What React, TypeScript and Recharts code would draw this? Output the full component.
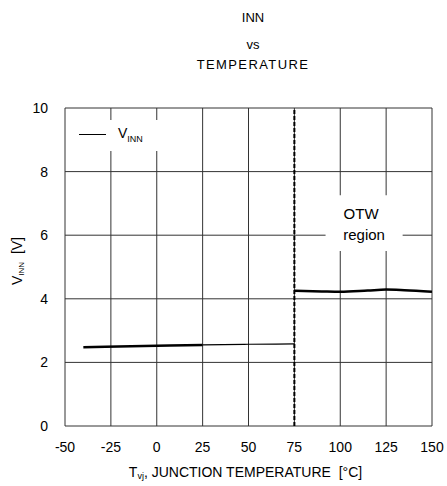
import { CartesianGrid, Legend, Line, LineChart, ReferenceArea, ReferenceLine, XAxis, YAxis } from "recharts";

const xTicks = [-50, -25, 0, 25, 50, 75, 100, 125, 150];
const yTicks = [0, 2, 4, 6, 8, 10];

// below OTW threshold: heavy segment then thin continuation
const lowThick = [
  { t: -40, v: 2.48 },
  { t: 0, v: 2.52 },
  { t: 25, v: 2.55 },
];
const lowThin = [
  { t: 25, v: 2.55 },
  { t: 50, v: 2.57 },
  { t: 75, v: 2.58 },
];
// OTW region
const high = [
  { t: 75, v: 4.25 },
  { t: 90, v: 4.23 },
  { t: 100, v: 4.22 },
  { t: 115, v: 4.26 },
  { t: 125, v: 4.29 },
  { t: 135, v: 4.27 },
  { t: 150, v: 4.22 },
];

const font = "'Liberation Sans', Arial, sans-serif";

function LegendBox() {
  return (
    <div style={{ display: "flex", alignItems: "center", background: "#fff", padding: "4px 8px 4px 13px", fontFamily: font, fontSize: 14 }}>
      <span style={{ display: "inline-block", width: 27, borderTop: "1px solid #000", marginRight: 12 }} />
      <span>
        V<sub style={{ fontSize: 9 }}>INN</sub>
      </span>
    </div>
  );
}

export default function App() {
  return (
    <div style={{ position: "absolute", top: 0, left: 0, width: 447, height: 486, background: "#fff", fontFamily: font }}>
      <div style={{ position: "absolute", top: 8, left: 153, width: 200, textAlign: "center", fontSize: 13, lineHeight: "20px" }}>
        <div>INN</div>
        <div style={{ marginTop: 7 }}>vs</div>
        <div style={{ letterSpacing: 1.4 }}>TEMPERATURE</div>
      </div>
      <LineChart width={447} height={486} margin={{ top: 108, right: 15, bottom: 0, left: 0 }}>
        <CartesianGrid stroke="#333" strokeWidth={1} />
        <ReferenceArea x1={-48} x2={7} y1={8.65} y2={9.62} fill="#fff" fillOpacity={1} stroke="none" ifOverflow="visible" />
        <ReferenceArea
          x1={92}
          x2={134}
          y1={5.5}
          y2={7.26}
          fill="#fff"
          fillOpacity={1}
          stroke="none"
          label={(p: any) => {
            const vb = p.viewBox;
            const cx = vb.x + vb.width / 2;
            return (
              <text x={cx} y={vb.y + 24} textAnchor="middle" fontSize={15} fill="#000" fontFamily={font}>
                <tspan x={cx - 3}>OTW</tspan>
                <tspan x={cx} dy={21}>region</tspan>
              </text>
            );
          }}
        />
        <ReferenceLine x={75} stroke="#000" strokeWidth={2} strokeDasharray="4 2" />
        <XAxis
          dataKey="t"
          type="number"
          domain={[-50, 150]}
          ticks={xTicks}
          allowDataOverflow
          axisLine={false}
          tickLine={false}
          tickMargin={10}
          height={60}
          tick={{ fontSize: 14, fill: "#000", fontFamily: font }}
          label={(p: any) => {
            const vb = p.viewBox;
            return (
              <text x={vb.x + vb.width / 2 - 3} y={477} textAnchor="middle" fontSize={14} fill="#000" fontFamily={font} style={{ whiteSpace: "pre" }}>
                T<tspan fontSize={9} dy={2}>vj</tspan>
                <tspan dy={-2}>{", JUNCTION TEMPERATURE  [°C]"}</tspan>
              </text>
            );
          }}
        />
        <YAxis
          type="number"
          domain={[0, 10]}
          ticks={yTicks}
          width={65}
          axisLine={false}
          tickLine={false}
          tickMargin={11}
          tick={{ fontSize: 14, fill: "#000", fontFamily: font }}
          label={(p: any) => {
            return (
              <text x={0} y={0} transform="translate(22, 261) rotate(-90)" textAnchor="middle" fontSize={14} fill="#000" fontFamily={font} style={{ whiteSpace: "pre" }}>
                V<tspan fontSize={8} dy={2}>INN</tspan>
                <tspan dy={-2}>{"  [V]"}</tspan>
              </text>
            );
          }}
        />
        <Legend
          layout="horizontal"
          verticalAlign="middle"
          align="center"
          wrapperStyle={{ position: "absolute", top: 121, left: 66, width: "auto" }}
          content={() => <LegendBox />}
        />
        <Line data={lowThick} dataKey="v" type="monotone" stroke="#000" strokeWidth={2.5} dot={false} isAnimationActive={false} legendType="none" />
        <Line data={lowThin} dataKey="v" type="monotone" stroke="#000" strokeWidth={1.2} dot={false} isAnimationActive={false} legendType="none" />
        <Line data={high} dataKey="v" type="monotone" stroke="#000" strokeWidth={2.5} dot={false} isAnimationActive={false} legendType="none" />
      </LineChart>
    </div>
  );
}
